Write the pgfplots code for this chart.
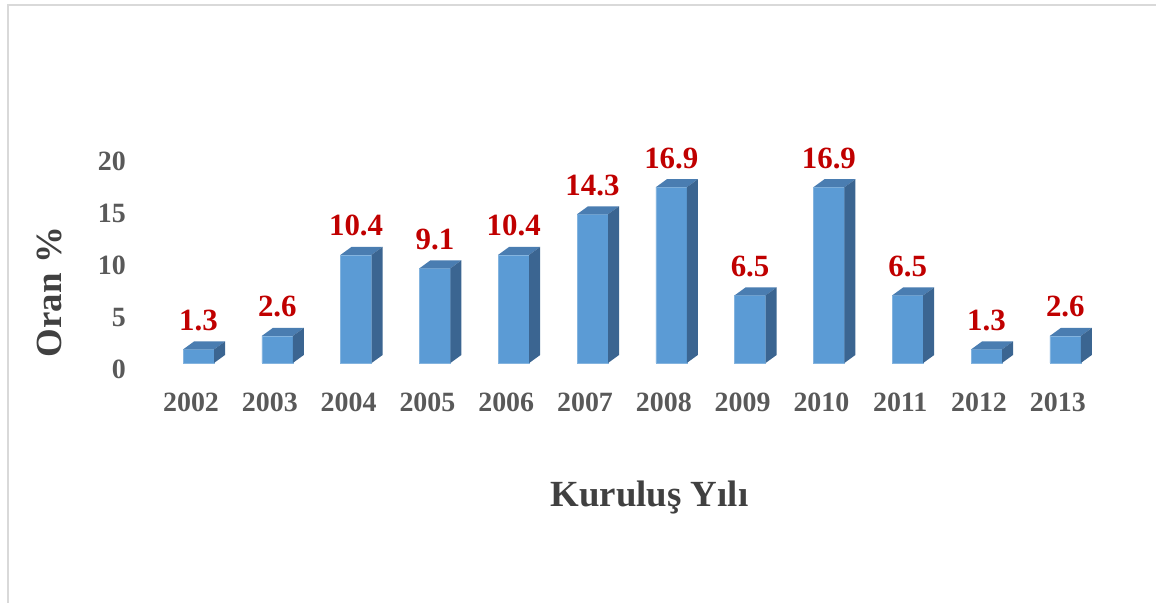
\documentclass[border=0pt]{standalone}
\usepackage{pgfplots}
\pgfplotsset{compat=1.18}
\usepackage{fontspec}
\setmainfont{Liberation Serif}
\definecolor{frontc}{HTML}{5B9BD5}
\definecolor{topc}{HTML}{4A7DB1}
\definecolor{sidec}{HTML}{3B6591}
\definecolor{labred}{HTML}{C00000}
\definecolor{tickgray}{HTML}{595959}
\definecolor{titlegray}{HTML}{404040}
\definecolor{bordergray}{HTML}{D9D9D9}

\pgfdeclareplotmark{box3d}{%
  \pgfmathsetmacro\hh{\rawy*10.4}%
  \pgfpathmoveto{\pgfpoint{-15.5bp}{0bp}}%
  \pgfpathlineto{\pgfpoint{15.5bp}{0bp}}%
  \pgfpathlineto{\pgfpoint{26.5bp}{8bp}}%
  \pgfpathlineto{\pgfpoint{-4.5bp}{8bp}}%
  \pgfpathclose
  \pgfsetfillcolor{topc}\pgfusepath{fill}%
  \pgfpathmoveto{\pgfpoint{15.5bp}{0bp}}%
  \pgfpathlineto{\pgfpoint{26.5bp}{8bp}}%
  \pgfpathlineto{\pgfpoint{26.5bp}{8bp-\hh*1bp}}%
  \pgfpathlineto{\pgfpoint{15.5bp}{-\hh*1bp}}%
  \pgfpathclose
  \pgfsetfillcolor{sidec}\pgfusepath{fill}%
}

\pgfplotstableread{
x y
0 1.3
1 2.6
2 10.4
3 9.1
4 10.4
5 14.3
6 16.9
7 6.5
8 16.9
9 6.5
10 1.3
11 2.6
}\datatable

\begin{document}
\begin{tikzpicture}
\useasboundingbox (0,0) rectangle (1156bp,603bp);
\draw[bordergray, line width=2bp] (7.5bp,0) -- (7.5bp,598bp) -- (1156bp,598bp);
\begin{axis}[
  at={(119.7bp,240bp)}, anchor=south west,
  scale only axis, width=1008.64bp, height=228.8bp,
  xmin=-1, xmax=11.8, ymin=0, ymax=22,
  clip=false,
  axis line style={draw=none},
  tick style={draw=none},
  /pgf/number format/assume math mode=true,
  xtick={0,...,11},
  xticklabels={2002,2003,2004,2005,2006,2007,2008,2009,2010,2011,2012,2013},
  ytick={0,5,10,15,20},
  xticklabel style={font=\fontsize{28}{32}\selectfont\bfseries, text=tickgray, anchor=base, inner sep=0pt, xshift=-7.5bp, yshift=-49bp},
  yticklabel style={font=\fontsize{28}{32}\selectfont\bfseries, text=tickgray, anchor=east, inner sep=0pt, xshift=6.3bp, yshift=-6.5bp},
  xlabel={Kuruluş Yılı},
  ylabel={Oran \%},
  xlabel style={font=\fontsize{37}{41}\selectfont\bfseries, text=titlegray, at={(axis description cs:0.5253,-0.629)}, anchor=base, inner sep=0pt},
  ylabel style={font=\fontsize{37}{41}\selectfont\bfseries, text=titlegray, at={(axis description cs:-0.0701,0.310)}, anchor=center, inner sep=0pt},
]
\addplot[ybar, bar width=31bp, fill=frontc, draw=frontc!75!white, line width=0.6bp,
  nodes near coords={\pgfmathprintnumber[fixed,fixed zerofill,precision=1]{\pgfplotspointmeta}},
  every node near coord/.append style={font=\fontsize{31}{34}\selectfont\bfseries, text=labred, anchor=base, inner sep=0pt, yshift=19bp}]
  table[x=x,y=y] {\datatable};
\addplot[only marks, mark=box3d, visualization depends on={rawy \as \rawy}]
  table[x=x,y=y] {\datatable};
\end{axis}
\end{tikzpicture}
\end{document}
